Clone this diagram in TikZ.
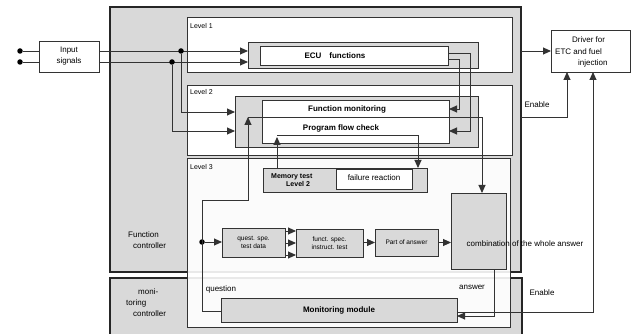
\documentclass[tikz,border=0pt]{standalone}
\usepackage{fontspec}
\setmainfont{Liberation Sans}
\usetikzlibrary{arrows.meta}

\definecolor{boxgray}{gray}{0.85}
\definecolor{linegray}{gray}{0.2}

\begin{document}
\begin{tikzpicture}[
 x=1pt, y=-1pt,
 box/.style={draw=linegray, line width=0.7pt, inner sep=0pt, outer sep=0pt, anchor=north west},
 graybox/.style={box, fill=boxgray},
 whitebox/.style={box, fill=white},
 controller/.style={graybox, draw=black!85, line width=1.4pt},
 level/.style={whitebox, line width=0.8pt},
 conn/.style={linegray, line width=0.9pt},
 arr/.style={conn, -{Triangle[length=8pt,width=7pt]}},
 dot/.style={circle, fill=black, inner sep=0pt, minimum size=5.5pt},
 txt/.style={inner sep=0pt, font=\fontsize{8}{11}\selectfont},
 small/.style={inner sep=0pt, align=center, font=\fontsize{6.5}{8.5}\selectfont},
 title/.style={inner sep=0pt, font=\fontsize{8}{10}\selectfont\bfseries},
]
\useasboundingbox (0,0) rectangle (635,334);

% Controllers
\node[controller, minimum width=411pt, minimum height=265pt] (fc) at (110,7) {};
\node[controller, minimum width=412pt, minimum height=57pt] (mc) at (110,278) {};
\node[txt, anchor=west, align=left] (fctxt) at (128,240) {Function\\\hspace{5pt}controller};
\node[txt, anchor=west, align=left] (mctxt) at (126,303) {\hspace{12pt}moni-\\toring\\\hspace{7pt}controller};

% Levels
\node[level, minimum width=325pt, minimum height=55pt] (lv1) at (187,17) {};
\node[level, minimum width=325pt, minimum height=70pt] (lv2) at (187,85) {};
\node[level, fill opacity=0.9, minimum width=323pt, minimum height=169pt] (lv3) at (187,158) {};
\foreach \i/\y in {1/26, 2/92, 3/167}
    \node[txt, anchor=west, font=\fontsize{7}{8}\selectfont] (lvl\i) at (190,\y) {Level \i};

% Level 1
\node[graybox, minimum width=230pt, minimum height=26pt] (ecu) at (248,42) {};
\node[whitebox, minimum width=188pt, minimum height=19pt] (ecuin) at (260,46) {};
\node[title] (ecutxt) at (335,56) {ECU\quad functions};

% Level 2
\node[graybox, minimum width=243pt, minimum height=51pt] (mon) at (235,96) {};
\node[whitebox, minimum width=187pt, minimum height=43pt] (monin) at (262,100) {};
\node[title] (montxt) at (347,109) {Function monitoring};
\node[title] (pfctxt) at (341,128) {Program flow check};

% Level 3
\node[graybox, minimum width=164pt, minimum height=24pt] (mem) at (263,168) {};
\node[whitebox, minimum width=76pt, minimum height=20pt] (fail) at (336,169) {};
\node[small, anchor=west, align=left, font=\fontsize{7}{8.5}\selectfont\bfseries] (memtxt) at (271,180) {Memory test\\\hspace{15pt}Level 2};
\node[txt] (failtxt) at (374,178) {failure reaction};

\node[graybox, small, minimum width=63pt, minimum height=29pt] (quest) at (222,228) {quest. spe.\\test data};
\node[graybox, small, minimum width=67pt, minimum height=28pt] (funct) at (296,229) {funct. spec.\\instruct. test};
\node[graybox, small, minimum width=63pt, minimum height=27pt] (part) at (375,229) {Part of answer};
\node[graybox, minimum width=55pt, minimum height=76pt] (comb) at (451,193) {};
\node[txt] (combtxt) at (525,244) {combination of the whole answer};

\node[graybox, title, minimum width=236pt, minimum height=24pt] (mm) at (221,298) {Monitoring module};

% Outside boxes
\node[whitebox, txt, align=center, minimum width=60pt, minimum height=31pt] (inp) at (39,41) {Input\\signals};
\node[whitebox, minimum width=79pt, minimum height=42pt] (drv) at (551,30) {};
\node[txt, anchor=west, align=left, font=\fontsize{8}{11.5}\selectfont] (drvtxt) at (555,52) {\hspace{17pt}Driver for\\ETC and fuel\\\hspace{23pt}injection};

% Inputs
\node[dot] (inA) at (20,51) {};
\node[dot] (inB) at (20,62) {};
\draw[conn] (inA) -- (inp.west |- inA);
\draw[conn] (inB) -- (inp.west |- inB);
\draw[arr] (inp.east |- inA) -- (ecu.west |- inA);
\draw[arr] (inp.east |- inB) -- (ecu.west |- inB);
\node[dot] (brA) at (181,51) {};
\node[dot] (brB) at (172,62) {};
\coordinate (yA) at (0,112);
\coordinate (yB) at (0,131);
\draw[arr] (brA) |- (mon.west |- yA);
\draw[arr] (brB) |- (mon.west |- yB);

% ECU outputs
\coordinate (ecuA) at (470,53);
\coordinate (ecuB) at (459,59);
\coordinate (yF) at (0,109);
\draw[arr] (ecuin.east |- ecuA) -- (ecuA) |- (monin.east |- yB);
\draw[arr] (ecuin.east |- ecuB) -- (ecuB) |- (monin.east |- yF);

% Driver
\draw[arr] (fc.east |- drv.west) -- (drv.west);
\coordinate (en1) at (567,117);
\draw[arr] (fc.east |- en1) -| (drv.south -| en1);
\node[txt] (enable1) at (537,105) {Enable};
\coordinate (en2) at (593,312);
\draw[arr] (mm.east |- en2) -| (drv.south -| en2);
\node[txt] (enable2) at (542,293) {Enable};

% Question
\node[dot] (qdot) at (202,242) {};
\coordinate (qlow) at (202,311);
\coordinate (q1) at (202,200);
\coordinate (q2) at (248,117);
\draw[arr] (mm.west |- qlow) -- (qlow) -- (q1) -| (q2);
\draw[arr] (qdot) -- (quest.west |- qdot);
\node[txt] (qtxt) at (221,289) {question};

% Function monitoring -> combination
\coordinate (fm) at (482,117);
\draw[arr] (q2) -- (fm) -- (fm |- comb.north);

% Program flow check <-> memory test
\coordinate (pf0) at (277,137);
\coordinate (pf1) at (277,135);
\coordinate (pf2) at (418,135);
\draw[arr] (mem.north -| pf0) -- (pf0);
\draw[arr] (pf1) -- (pf2) -- (pf2 |- mem.north);

% Test chain
\foreach \y in {231,243,255}
    \draw[arr] (quest.east |- 0,\y) -- (funct.west |- 0,\y);
\draw[arr] (funct.east |- part.west) -- (part.west);
\draw[arr] (part.east) -- (comb.west |- part.east);

% Answer
\coordinate (ans) at (494,316);
\draw[arr] (comb.south -| ans) -- (ans) -- (mm.east |- ans);
\node[txt] (anstxt) at (472,287) {answer};

\end{tikzpicture}
\end{document}
